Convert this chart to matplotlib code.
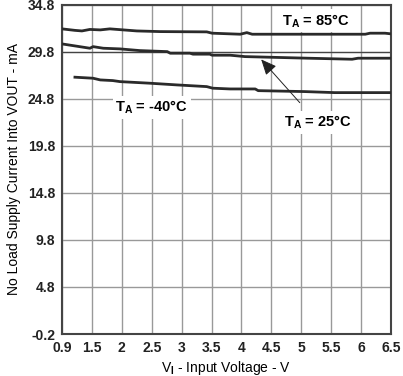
import matplotlib.pyplot as plt
import numpy as np

plt.rcParams.update({
    "font.family": "Liberation Sans",
    "font.weight": "bold",
    "mathtext.fontset": "custom",
    "mathtext.rm": "Liberation Sans:bold",
    "mathtext.it": "Liberation Sans:bold",
    "mathtext.bf": "Liberation Sans:bold",
})

# x tick labels are evenly spaced on the chart (0.9 then 1.5 ... 6.5)
x_ticks = [0.9, 1.5, 2, 2.5, 3, 3.5, 4, 4.5, 5, 5.5, 6, 6.5]
x_labels = ["0.9", "1.5", "2", "2.5", "3", "3.5", "4", "4.5", "5", "5.5", "6", "6.5"]
y_ticks = [-0.2, 4.8, 9.8, 14.8, 19.8, 24.8, 29.8, 34.8]

v_85 = [0.9, 1.16, 1.30, 1.46, 1.64, 1.80, 2.25, 2.64, 3.42, 3.51, 3.98, 4.09, 4.18, 5.0, 6.07, 6.15, 6.40, 6.5]
i_85 = [32.25, 32.09, 32.03, 32.19, 32.14, 32.25, 32.03, 31.96, 31.93, 31.79, 31.68, 31.85, 31.68, 31.68, 31.68, 31.79, 31.79, 31.72]

v_25 = [0.9, 1.46, 1.52, 1.69, 1.97, 2.30, 2.76, 2.81, 3.14, 3.19, 3.47, 3.51, 3.81, 4.06, 5.11, 5.85, 5.95, 6.5]
i_25 = [30.65, 30.19, 30.36, 30.19, 30.12, 29.94, 29.83, 29.66, 29.66, 29.56, 29.56, 29.45, 29.45, 29.3, 29.13, 29.02, 29.13, 29.13]

v_m40 = [1.16, 1.52, 1.64, 1.85, 1.97, 2.47, 2.92, 3.42, 3.52, 3.81, 4.23, 4.28, 5.06, 5.56, 6.5]
i_m40 = [27.11, 27.0, 26.82, 26.75, 26.64, 26.47, 26.29, 26.11, 25.94, 25.86, 25.86, 25.68, 25.58, 25.47, 25.47]

pos = np.arange(len(x_ticks))


def xp(v):
    return np.interp(v, x_ticks, pos)


fig = plt.figure(figsize=(4.03, 3.76), dpi=100)
ax = fig.add_axes([0.1538, 0.1117, 0.8164, 0.8753])

for v, i in [(v_85, i_85), (v_25, i_25), (v_m40, i_m40)]:
    ax.plot(xp(v), i, color="#2a2a2a", lw=2, zorder=3)

ax.set_xlim(0, len(x_ticks) - 1)
ax.set_ylim(-0.2, 34.8)
ax.set_xticks(pos)
ax.set_xticklabels(x_labels)
ax.set_yticks(y_ticks)
ax.set_yticklabels([f"{t:.1f}" for t in y_ticks])
ax.tick_params(length=0, labelsize=10, pad=5, colors="#222222")
ax.grid(True, color="#999999", lw=1)
ax.axhline(29.8, color="#444444", lw=0.9, zorder=2)
for s in ax.spines.values():
    s.set_color("#444444")
    s.set_linewidth(1.5)

ax.set_xlabel(r"V$_\mathbf{I}$ - Input Voltage - V", fontsize=10, labelpad=3)
ax.set_ylabel("No Load Supply Current Into VOUT - mA", fontsize=10, labelpad=5)

box = dict(facecolor="white", edgecolor="none", pad=2)
ax.text(xp(5.25), 33.1, r"T$_\mathbf{A}$ = 85°C", fontsize=10.5, ha="center", va="center", bbox=box, zorder=4)
ax.text(xp(2.5), 23.9, r"T$_\mathbf{A}$ = -40°C", fontsize=10.5, ha="center", va="center", bbox=box, zorder=4)
ax.annotate(r"T$_\mathbf{A}$ = 25°C", xy=(xp(4.33), 29.0), xytext=(xp(5.27), 22.3),
            fontsize=10.5, ha="center", va="center", bbox=box, zorder=4,
            arrowprops=dict(arrowstyle="-|>,head_length=0.9,head_width=0.4", color="#222222",
                            lw=0.7, shrinkA=8, shrinkB=0))

fig.savefig("out.png", dpi=100)
